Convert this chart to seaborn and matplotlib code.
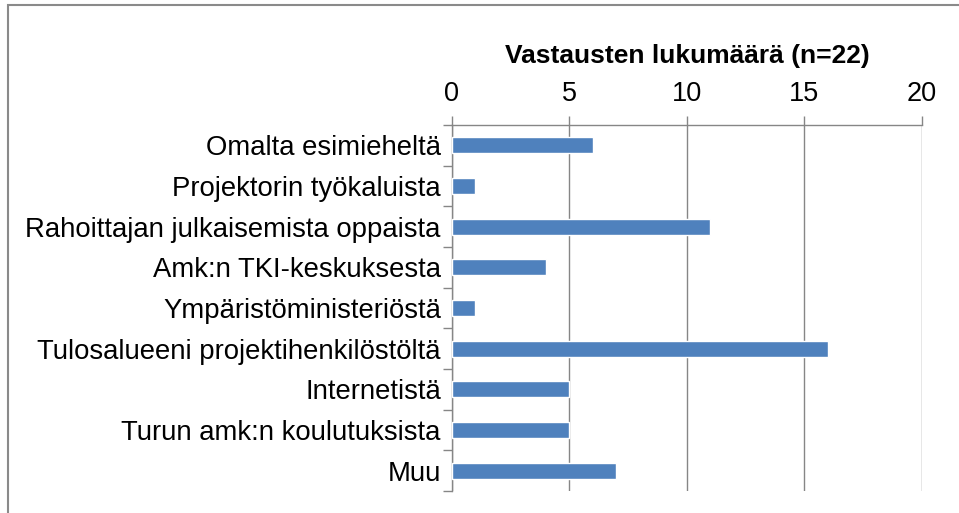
import matplotlib
matplotlib.use("Agg")
import matplotlib.pyplot as plt
import seaborn as sns
import pandas as pd
import numpy as np
from matplotlib.patches import Rectangle

lahteet = ['Omalta esimieheltä', 'Projektorin työkaluista', 'Rahoittajan julkaisemista oppaista',
           'Amk:n TKI-keskuksesta', 'Ympäristöministeriöstä', 'Tulosalueeni projektihenkilöstöltä',
           'Internetistä', 'Turun amk:n koulutuksista', 'Muu']
vastaukset = [6, 1, 11, 4, 1, 16, 5, 5, 7]
x_ticks = [0, 5, 10, 15, 20]
otsikko = 'Vastausten lukumäärä (n=22)'

sns.set_theme(style="white")
plt.rcParams['font.family'] = ['Liberation Sans', 'DejaVu Sans']

df = pd.DataFrame({'lahde': lahteet, 'n': vastaukset})

fig = plt.figure(figsize=(9.59, 5.13), dpi=100)
ax = fig.add_axes([0.4713, 0.0429, 0.4901, 0.7134])

sns.barplot(data=df, y='lahde', x='n', orient='h', color='#4F81BD',
            width=0.4, saturation=1, ax=ax, zorder=3)

ax.set_xlim(0, 20)
ax.set_ylim(len(lahteet) - 0.5, -0.5)
ax.set_xticks(x_ticks)
ax.xaxis.tick_top()
ax.xaxis.set_label_position('top')
ax.tick_params(axis='x', which='major', length=6.5, color='#868686', labelsize=19.5,
               labelcolor='black', pad=6.5, top=True, bottom=False, width=1)
ax.tick_params(axis='y', which='major', length=0, labelsize=19.8, labelcolor='black', pad=8)
ax.set_yticks(np.arange(-0.5, len(lahteet), 1), minor=True)
ax.tick_params(axis='y', which='minor', length=6.5, color='#868686', width=1, left=True)
ax.grid(axis='x', color='#868686', linewidth=1, zorder=0)
ax.set_axisbelow(True)

for s in ['right', 'bottom']:
    ax.spines[s].set_visible(False)
for s in ['left', 'top']:
    ax.spines[s].set_color('#868686')
    ax.spines[s].set_linewidth(1)

ax.set_ylabel('')
ax.set_xlabel(otsikko, fontsize=19, fontweight='bold', color='black', labelpad=13)

# kehys kuvan ympärillä (oikea ja ala-reuna rajautuvat pois)
fig.patches.append(Rectangle((8 / 959, -0.05), 1.0, 1.05 - 5 / 513, transform=fig.transFigure,
                             fill=False, edgecolor='#8a8a8a', linewidth=1.5))

fig.savefig('out.png', dpi=100)
